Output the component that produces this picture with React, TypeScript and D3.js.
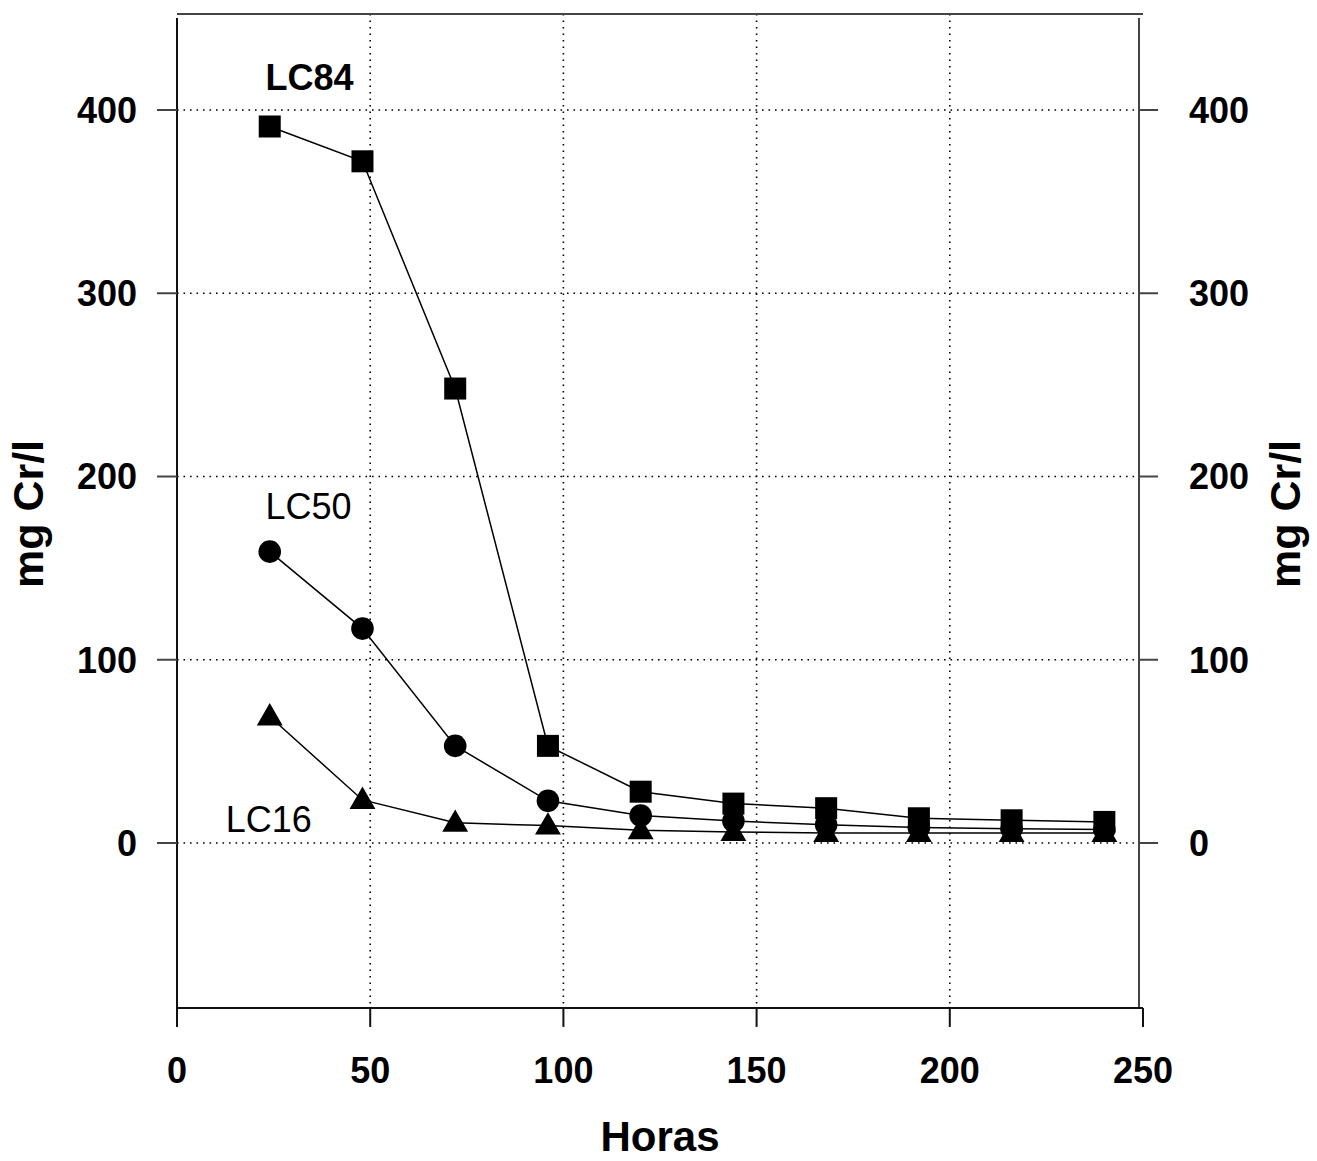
import React from 'react';
import * as d3 from 'd3';

const hours = [24, 48, 72, 96, 120, 144, 168, 192, 216, 240];
const lc84 = [391, 372, 248, 53, 28, 21.5, 19, 13.5, 12.4, 11.5];
const lc50 = [159, 117, 53, 23, 15, 12, 10, 8.5, 7.8, 7.3];
const lc16 = [69, 23.5, 11, 9.5, 7, 6, 5.5, 5.5, 5.5, 5.5];

const xTicks = [0, 50, 100, 150, 200, 250];
const yTicks = [0, 100, 200, 300, 400];
const xGrid = [50, 100, 150, 200];

// text annotations, placed in data units
const seriesLabels = [
  { text: 'LC84', hour: 22.9, value: 411, bold: true },
  { text: 'LC50', hour: 22.9, value: 177, bold: false },
  { text: 'LC16', hour: 12.6, value: 5.8, bold: false },
];

const W = 1317;
const H = 1161;
const font = '"Liberation Sans", Arial, sans-serif';

const App = () => {
  const x = d3.scaleLinear().domain([0, 250]).range([177, 1143]);
  const y = d3.scaleLinear().domain([0, 400]).range([843, 110]);

  const left = x(0);
  const right = 1139;
  const top = 14;
  const bottom = y(-90);

  const line = d3.line<number>()
    .x((_, i) => x(hours[i]))
    .y(d => y(d));

  const sq = 22;
  const circleR = 11.3;
  const tri = d3.symbol().type(d3.symbolTriangle).size(290);

  return (
    <svg width={W} height={H} style={{ position: 'absolute', left: 0, top: 0, background: '#fff' }}
      fontFamily={font}>
      {/* grid */}
      {yTicks.map(t => (
        <line key={'gy' + t} x1={left} x2={right} y1={y(t)} y2={y(t)}
          stroke="#000" strokeWidth={1.6} strokeDasharray="1.6,4.9" />
      ))}
      {xGrid.map(t => (
        <line key={'gx' + t} x1={x(t)} x2={x(t)} y1={top} y2={bottom}
          stroke="#000" strokeWidth={1.6} strokeDasharray="1.6,4.9" />
      ))}

      {/* frame */}
      <line x1={left} x2={x(250)} y1={top} y2={top} stroke="#444" strokeWidth={2} />
      <line x1={left} x2={left} y1={18} y2={bottom} stroke="#111" strokeWidth={2} />
      <line x1={right} x2={right} y1={18} y2={bottom} stroke="#444" strokeWidth={2} />
      <line x1={left} x2={x(250)} y1={bottom} y2={bottom} stroke="#111" strokeWidth={2} />

      {/* x axis */}
      {xTicks.map(t => (
        <g key={'xt' + t}>
          <line x1={x(t)} x2={x(t)} y1={bottom} y2={bottom + 19} stroke="#111" strokeWidth={2} />
          <text x={x(t)} y={1083} textAnchor="middle" fontSize={36} fontWeight="bold">{t}</text>
        </g>
      ))}
      <text x={660} y={1151} textAnchor="middle" fontSize={42} fontWeight="bold">Horas</text>

      {/* y axes */}
      {yTicks.map(t => (
        <g key={'yt' + t}>
          <line x1={left - 20} x2={left} y1={y(t)} y2={y(t)} stroke="#444" strokeWidth={2} />
          <line x1={right} x2={right + 19} y1={y(t)} y2={y(t)} stroke="#444" strokeWidth={2} />
          <text x={137} y={y(t)} dy="0.36em" textAnchor="end" fontSize={36} fontWeight="bold">{t}</text>
          <text x={1189} y={y(t)} dy="0.36em" textAnchor="start" fontSize={36} fontWeight="bold">{t}</text>
        </g>
      ))}
      <text transform={`translate(43,514) rotate(-90)`} textAnchor="middle" fontSize={43} fontWeight="bold">mg Cr/l</text>
      <text transform={`translate(1300,514) rotate(-90)`} textAnchor="middle" fontSize={43} fontWeight="bold">mg Cr/l</text>

      {/* series lines */}
      <path d={line(lc84) || ''} fill="none" stroke="#000" strokeWidth={1.5} />
      <path d={line(lc50) || ''} fill="none" stroke="#000" strokeWidth={1.5} />
      <path d={line(lc16) || ''} fill="none" stroke="#000" strokeWidth={1.5} />

      {/* markers */}
      {lc84.map((v, i) => (
        <rect key={'s' + i} x={x(hours[i]) - sq / 2} y={y(v) - sq / 2} width={sq} height={sq} fill="#000" />
      ))}
      {lc50.map((v, i) => (
        <circle key={'c' + i} cx={x(hours[i])} cy={y(v)} r={circleR} fill="#000" />
      ))}
      {lc16.map((v, i) => (
        <path key={'t' + i} d={tri() || ''} transform={`translate(${x(hours[i])},${y(v) + 1.5})`} fill="#000" />
      ))}

      {/* labels */}
      {seriesLabels.map(l => (
        <text key={l.text} x={x(l.hour)} y={y(l.value)} fontSize={36}
          fontWeight={l.bold ? 'bold' : 'normal'}>{l.text}</text>
      ))}
    </svg>
  );
};

export default App;
